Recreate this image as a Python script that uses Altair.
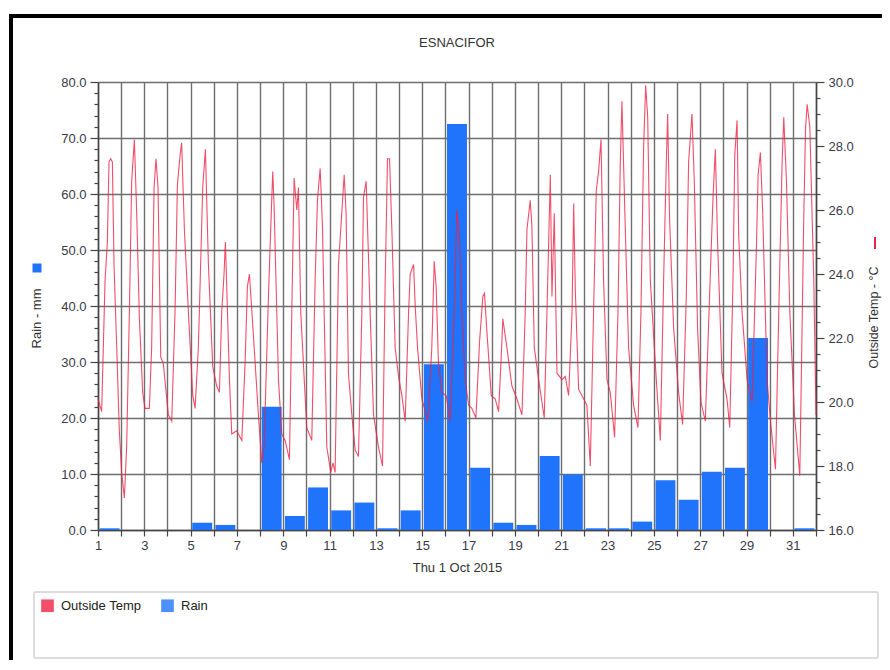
import altair as alt
import pandas as pd

TITLE = "ESNACIFOR"
X_TITLE = "Thu 1 Oct 2015"
RAIN_TITLE = "Rain - mm"
TEMP_TITLE = "Outside Temp - °C"
SERIES = ["Outside Temp", "Rain"]
COLORS = ["#EE2244", "#1F74FB"]

DAYS = list(range(1, 32))
RAIN_MM = [0.3, 0, 0, 0, 1.3, 0.9, 0, 22.0, 2.5, 7.6, 3.5, 4.9, 0.3, 3.5, 29.6,
           72.5, 11.1, 1.3, 0.9, 13.2, 9.9, 0.3, 0.3, 1.5, 8.9, 5.4, 10.4, 11.1,
           34.3, 0, 0.3]

# hours since 1 Oct 00:00
TEMP_HOURS = [
    0, 3.8, 7.3, 9.7, 11.4, 13.1, 14.9, 16.6, 19.4, 22.1,
    24.5, 27.3, 29.7, 32.5, 34.9, 37.7, 40.1, 42.9, 46.3,
    48.7, 53.2, 55.6, 58.1, 60.1, 62.2, 65.0, 67.7,
    72.9, 76.4, 79.8, 82.3, 85.0, 86.7, 89.5, 93.7,
    98.2, 100.6, 104.0, 108.5, 111.3, 114.4, 118.9,
    123.0, 125.8, 128.2, 130.6, 132.0, 133.4, 136.2, 138.6, 143.8,
    149.0, 152.4, 154.8, 156.9, 161.0, 166.2,
    169.7, 172.1, 176.6, 180.1, 181.1, 182.5, 187.0, 190.4,
    193.9, 198.4, 200.8, 203.2, 206.0, 207.7, 210.1, 216.3,
    221.5, 225.0, 227.4, 230.2, 232.6, 237.1,
    241.2, 243.5, 245.7, 249.2, 252.6, 255.1, 257.1, 259.5, 263.0,
    266.5, 269.9, 273.4, 275.1, 277.9, 282.0, 285.5, 290.6,
    294.8, 297.6, 300.0, 302.1, 304.5, 307.9, 311.4, 314.9,
    318.3, 321.8, 323.5, 327.0, 328.7, 331.1, 335.6, 338.3,
    341.8, 345.9, 348.4, 350.4, 352.8, 356.3, 360.8,
    364.9, 369.1, 371.9, 374.6, 377.0, 380.5, 384.0, 387.4,
    391.6, 395.4, 398.8, 400.5, 403.0, 407.5, 411.6,
    415.1, 417.5, 419.5, 423.7, 428.9, 434.1,
    439.3, 442.7, 444.5, 447.9, 449.6, 452.1, 456.6,
    462.4, 465.2, 468.7, 470.4, 472.8, 475.6, 480.8, 484.2,
    487.7, 491.2, 492.9, 494.6, 498.0, 503.2, 506.6,
    510.1, 513.5, 516.3, 518.7, 521.2, 523.9, 527.4, 530.8,
    535.3, 538.8, 541.2, 542.9, 546.4, 549.8, 555.0,
    559.5, 562.6, 565.4, 567.5, 569.6, 572.3, 578.5,
    582.7, 586.1, 588.9, 590.3, 592.3, 596.5, 601.6,
    605.8, 609.6, 612.0, 615.5, 617.9, 621.3, 624.8,
    629.3, 634.5, 637.3, 639.7, 642.1, 646.6, 651.8,
    654.6, 658.0, 659.8, 662.2, 663.9, 667.4, 672.6,
    677.8, 682.3, 684.0, 686.4, 688.8, 693.3, 696.8,
    702.0, 705.4, 708.9, 710.6, 713.4, 716.9, 721.7,
    727.2, 731.4, 733.1, 734.8, 737.6, 741.7, 744.0,
]
TEMP_C = [
    20.1, 19.7, 23.8, 25.0, 27.5, 27.6, 27.5, 24.3, 21.7, 19.1,
    17.8, 17.0, 18.6, 22.8, 26.9, 28.2, 25.9, 22.6, 20.3,
    19.8, 19.8, 21.7, 26.7, 27.6, 26.7, 21.4, 21.2,
    19.6, 19.4, 22.8, 26.8, 27.7, 28.1, 25.4, 22.8,
    20.2, 19.8, 21.7, 26.7, 27.9, 24.3, 21.1,
    20.5, 20.3, 22.8, 24.0, 25.0, 23.6, 20.7, 19.0, 19.1,
    18.8, 21.2, 23.6, 24.0, 22.1, 19.6,
    18.1, 18.6, 23.3, 26.4, 27.2, 26.1, 20.7, 19.0,
    18.8, 18.2, 22.8, 27.0, 26.0, 26.7, 22.8, 19.2,
    18.8, 23.8, 26.3, 27.3, 25.5, 18.6,
    17.8, 18.1, 17.8, 24.3, 25.9, 27.1, 25.9, 20.9, 19.6,
    18.5, 18.3, 22.8, 26.4, 26.9, 22.8, 19.6, 18.6,
    18.0, 23.8, 27.6, 27.6, 25.4, 21.7, 20.8, 20.2,
    19.4, 22.8, 24.0, 24.3, 23.0, 21.7, 20.1, 19.8,
    19.4, 21.7, 24.4, 23.6, 21.2, 20.3, 20.2,
    19.4, 22.8, 26.0, 25.1, 22.8, 20.7, 19.9, 19.8,
    19.5, 21.9, 23.3, 23.4, 22.2, 20.2, 20.1,
    19.7, 21.2, 22.6, 21.7, 20.5, 20.1,
    19.6, 22.8, 25.4, 26.3, 25.5, 21.7, 20.7,
    19.5, 22.8, 27.1, 23.3, 25.9, 20.9, 20.7, 20.8,
    20.2, 22.8, 26.2, 23.5, 20.4, 20.1, 19.9,
    18.0, 22.8, 26.6, 27.2, 28.2, 23.8, 20.7, 20.3,
    18.9, 22.8, 27.5, 29.4, 25.4, 21.7, 19.9,
    19.2, 22.8, 28.0, 29.9, 28.9, 23.8, 20.7,
    18.8, 23.8, 27.5, 29.0, 25.7, 22.3, 20.3,
    19.3, 23.3, 27.5, 29.0, 26.9, 22.3, 20.0,
    19.4, 24.0, 26.4, 27.9, 24.9, 20.9, 20.1,
    19.2, 23.8, 27.7, 28.8, 25.2, 22.8, 20.7,
    20.0, 24.9, 27.1, 27.8, 25.9, 20.7, 19.4,
    17.9, 22.8, 27.5, 28.9, 26.9, 22.8, 19.6,
    17.7, 25.9, 28.5, 29.3, 28.6, 23.8, 19.6,
]

rain_df = pd.DataFrame({"day": DAYS, "rain": RAIN_MM})
rain_df["start"] = rain_df["day"] + 0.07
rain_df["end"] = rain_df["day"] + 0.93
rain_df["base"] = 0
rain_df["series"] = SERIES[1]

temp_df = pd.DataFrame({"t": [1 + h / 24 for h in TEMP_HOURS], "temp": TEMP_C})
temp_df["series"] = SERIES[0]

FONT = "Liberation Sans"
TXT = "#3a3a48"

x_scale = alt.Scale(domain=[1, 32], nice=False, zero=False)
x_axis = alt.Axis(
    values=list(range(1, 33)),
    labelExpr="datum.value % 2 == 1 && datum.value < 32 ? datum.value : ''",
    title=X_TITLE, grid=True, tickSize=6, labelPadding=3, titlePadding=9,
    labelFlush=False, labelOverlap=False,
)

major10 = "datum.value % 10 == 0"
rain_axis = alt.Axis(
    orient="left", title=RAIN_TITLE, titleY=236,
    values=list(range(0, 81, 2)),
    labelExpr="datum.value % 10 == 0 ? format(datum.value, '.1f') : ''",
    tickSize={"condition": {"test": major10, "value": 8}, "value": 4},
    grid=True,
    gridOpacity={"condition": {"test": major10, "value": 1}, "value": 0},
    labelPadding=4, titlePadding=17, labelOverlap=False, labelFlush=False,
)

major2 = "datum.value % 2 == 0"
temp_axis = alt.Axis(
    orient="right", title=TEMP_TITLE, titleAngle=270, titleY=235,
    titleFontSize=12.5,
    values=[16 + 0.5 * i for i in range(29)],
    labelExpr="datum.value % 2 == 0 ? format(datum.value, '.1f') : ''",
    tickSize={"condition": {"test": major2, "value": 8}, "value": 4},
    grid=False, labelPadding=4, titlePadding=27,
    labelOverlap=False, labelFlush=False,
)

legend = alt.Legend(
    title=None, orient="none", legendX=-57, legendY=517,
    direction="horizontal", symbolType="square", symbolSize=160,
    labelFontSize=13, labelFont=FONT, labelColor="#222",
    columnPadding=19, padding=0, symbolStrokeWidth=0, labelOffset=7,
)
color = alt.Color("series:N", scale=alt.Scale(domain=SERIES, range=COLORS), legend=legend)

bars = alt.Chart(rain_df).mark_bar().encode(
    x=alt.X("start:Q", scale=x_scale, axis=x_axis),
    x2="end:Q",
    y=alt.Y("rain:Q", scale=alt.Scale(domain=[0, 80], nice=False), axis=rain_axis),
    y2="base:Q",
    color=color,
)

line = alt.Chart(temp_df).mark_line(strokeWidth=1.1, opacity=0.8).encode(
    x=alt.X("t:Q", scale=x_scale, axis=x_axis),
    y=alt.Y("temp:Q", scale=alt.Scale(domain=[16, 30], nice=False, zero=False), axis=temp_axis),
    color=color,
)

deco = alt.Data(values=[{"k": 0}])
legend_box = alt.Chart(deco).mark_rect(fill="white", stroke="#dcdcdc", strokeWidth=2, cornerRadius=2).encode(
    x=alt.value(-64), x2=alt.value(780), y=alt.value(510), y2=alt.value(576)
)
frame_left = alt.Chart(deco).mark_rule(color="black", strokeWidth=4).encode(
    x=alt.value(-87), y=alt.value(-68), y2=alt.value(578)
)
frame_top = alt.Chart(deco).mark_rule(color="black", strokeWidth=4).encode(
    x=alt.value(-89), x2=alt.value(784), y=alt.value(-66)
)
rain_sym = alt.Chart(deco).mark_square(size=81, color=COLORS[1], opacity=1).encode(
    x=alt.value(-61), y=alt.value(186)
)
temp_sym = alt.Chart(deco).mark_rule(color=COLORS[0], strokeWidth=2).encode(
    x=alt.value(777), y=alt.value(155), y2=alt.value(167)
)

chart = alt.layer(
    legend_box, frame_left, frame_top, bars, line, rain_sym, temp_sym
).resolve_scale(y="independent").properties(
    width=718, height=448,
    autosize=alt.AutoSizeParams(type="none"),
    padding={"left": 90, "top": 74, "right": 66, "bottom": 130},
    title=alt.TitleParams(TITLE, fontSize=13, font=FONT, fontWeight="normal",
                          color="#333", anchor="middle", frame="group",
                          offset=10, dy=48),
).configure_view(strokeOpacity=0).configure_axis(
    labelFont=FONT, titleFont=FONT, labelFontSize=13, titleFontSize=13,
    titleFontWeight="normal", labelColor=TXT, titleColor="#333",
    domainColor="#444", domainWidth=1.5, tickColor="#444", tickWidth=1.2,
    gridColor="#6e6e6e", gridWidth=1.4,
)

chart.save("out.html", embed_options={"renderer": "svg", "actions": False})
